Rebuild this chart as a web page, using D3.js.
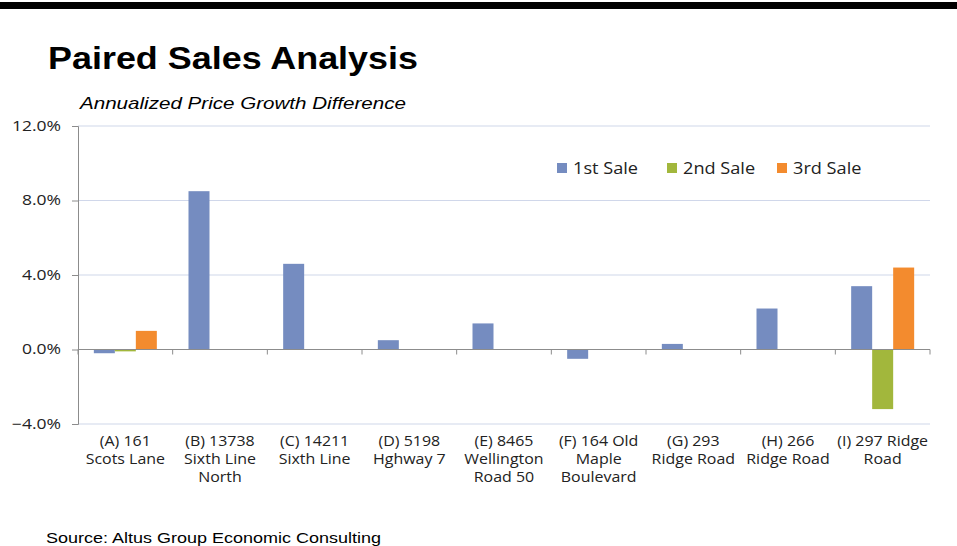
<!DOCTYPE html>
<html>
<head>
<meta charset="utf-8">
<script src="https://cdn.jsdelivr.net/npm/d3@7"></script>
<style>
  body { margin: 0; background: #fff; }
  svg { display: block; }
</style>
</head>
<body>
<svg id="chart" width="957" height="546"></svg>
<script>
var categories = [
  ['(A) 161', 'Scots Lane'],
  ['(B) 13738', 'Sixth Line', 'North'],
  ['(C) 14211', 'Sixth Line'],
  ['(D) 5198', 'Hghway 7'],
  ['(E) 8465', 'Wellington', 'Road 50'],
  ['(F) 164 Old', 'Maple', 'Boulevard'],
  ['(G) 293', 'Ridge Road'],
  ['(H) 266', 'Ridge Road'],
  ['(I) 297 Ridge', 'Road']
];
var seriesNames = ['1st Sale', '2nd Sale', '3rd Sale'];
var seriesColors = ['#758cc0', '#a2b73c', '#f38b2e'];
var firstSale = [-0.2, 8.5, 4.6, 0.5, 1.4, -0.5, 0.3, 2.2, 3.4];
var secondSale = [-0.1, null, null, null, null, null, null, null, -3.2];
var thirdSale = [1.0, null, null, null, null, null, null, null, 4.4];
var yTicks = [12, 8, 4, 0, -4];

// widen text a little, the source picture is stretched sideways
function stretch(sel, factor) {
  sel.each(function() {
    var w = this.getComputedTextLength();
    d3.select(this)
        .attr('textLength', w * factor)
        .attr('lengthAdjust', 'spacingAndGlyphs');
  });
}

var svg = d3.select('#chart');
var margin = { left: 78, right: 27, top: 126, bottom: 122 };
var width = 957 - margin.left - margin.right,
    height = 546 - margin.top - margin.bottom;

// black band across the top
svg.append('rect')
    .attr('x', 0).attr('y', 2)
    .attr('width', 957).attr('height', 7)
    .style('fill', '#000');

svg.append('text')
    .attr('x', 48).attr('y', 69)
    .attr('textLength', 370)
    .attr('lengthAdjust', 'spacingAndGlyphs')
    .style('font-family', 'Liberation Sans, Arial, sans-serif')
    .style('font-weight', 'bold')
    .style('font-size', '32px')
    .text('Paired Sales Analysis');

svg.append('text')
    .attr('x', 80).attr('y', 109)
    .attr('textLength', 326)
    .attr('lengthAdjust', 'spacingAndGlyphs')
    .style('font-family', 'Liberation Sans, Arial, sans-serif')
    .style('font-style', 'italic')
    .style('font-size', '17px')
    .text('Annualized Price Growth Difference');

svg.append('text')
    .attr('x', 46).attr('y', 543)
    .attr('textLength', 335)
    .attr('lengthAdjust', 'spacingAndGlyphs')
    .style('font-family', 'Liberation Sans, Arial, sans-serif')
    .style('font-size', '15px')
    .text('Source: Altus Group Economic Consulting');

var g = svg.append('g')
    .attr('transform', 'translate(' + margin.left + ',' + margin.top + ')');

var x0 = d3.scaleBand()
    .domain(d3.range(categories.length))
    .range([0, width]);

var x1 = d3.scaleBand()
    .domain(d3.range(seriesNames.length))
    .range([0, 63]);

var y = d3.scaleLinear()
    .domain([-4, 12])
    .range([height, 0]);

// gridlines
g.selectAll('.grid')
    .data(yTicks.filter(function(d) { return d !== 0; }))
  .enter().append('line')
    .attr('class', 'grid')
    .attr('x1', 0).attr('x2', width)
    .attr('y1', function(d) { return y(d); })
    .attr('y2', function(d) { return y(d); })
    .style('stroke', '#d0d7ea')
    .style('stroke-width', 1.2);

// y axis
var yAxis = g.append('g')
    .call(d3.axisLeft(y).tickValues(yTicks).tickSize(6).tickPadding(11)
      .tickFormat(function(d) { return d3.format('.1f')(d) + '%'; }));
yAxis.select('.domain').style('stroke', '#8c8c8c');
yAxis.selectAll('.tick line').style('stroke', '#8c8c8c');
yAxis.selectAll('text')
    .style('font-family', 'Open Sans, sans-serif')
    .style('font-size', '14px')
    .style('fill', '#222')
    .call(stretch, 1.25);

// bars
var series = [firstSale, secondSale, thirdSale];
var groups = g.selectAll('.group')
    .data(categories)
  .enter().append('g')
    .attr('class', 'group')
    .attr('transform', function(d, i) {
      return 'translate(' + (x0(i) + (x0.bandwidth() - 63) / 2) + ',0)';
    });

groups.selectAll('rect')
    .data(function(d, i) {
      return series.map(function(s, k) { return { k: k, v: s[i] }; })
        .filter(function(e) { return e.v !== null; });
    })
  .enter().append('rect')
    .attr('x', function(d) { return x1(d.k); })
    .attr('width', x1.bandwidth())
    .attr('y', function(d) { return y(Math.max(0, d.v)); })
    .attr('height', function(d) { return Math.abs(y(d.v) - y(0)); })
    .style('fill', function(d) { return seriesColors[d.k]; });

// zero axis with category ticks
g.append('line')
    .attr('x1', 0).attr('x2', width)
    .attr('y1', y(0)).attr('y2', y(0))
    .style('stroke', '#8c8c8c')
    .style('stroke-width', 1.2);

g.selectAll('.cattick')
    .data(d3.range(categories.length + 1))
  .enter().append('line')
    .attr('class', 'cattick')
    .attr('x1', function(i) { return i * x0.step(); })
    .attr('x2', function(i) { return i * x0.step(); })
    .attr('y1', y(0)).attr('y2', y(0) + 5)
    .style('stroke', '#8c8c8c');

// category labels
var labels = g.selectAll('.cat')
    .data(categories)
  .enter().append('text')
    .attr('class', 'cat')
    .attr('x', function(d, i) { return x0(i) + x0.bandwidth() / 2; })
    .attr('y', height + 22)
    .style('text-anchor', 'middle')
    .style('font-family', 'Open Sans, sans-serif')
    .style('font-size', '14.5px')
    .style('fill', '#222');

labels.selectAll('tspan')
    .data(function(d) { return d; })
  .enter().append('tspan')
    .attr('x', function() { return d3.select(this.parentNode).attr('x'); })
    .attr('dy', function(d, i) { return i === 0 ? 0 : 18; })
    .text(function(d) { return d; })
    .call(stretch, 1.1);

// legend
var legendX = [557, 667, 777];
var legend = svg.selectAll('.legend')
    .data(seriesNames)
  .enter().append('g')
    .attr('class', 'legend')
    .attr('transform', function(d, i) { return 'translate(' + legendX[i] + ',163)'; });

legend.append('rect')
    .attr('width', 10).attr('height', 10)
    .style('fill', function(d, i) { return seriesColors[i]; });

legend.append('text')
    .attr('x', 16).attr('y', 10.5)
    .style('font-family', 'Open Sans, sans-serif')
    .style('font-size', '16.5px')
    .style('fill', '#222')
    .text(function(d) { return d; })
    .call(stretch, 1.1);
</script>
</body>
</html>
